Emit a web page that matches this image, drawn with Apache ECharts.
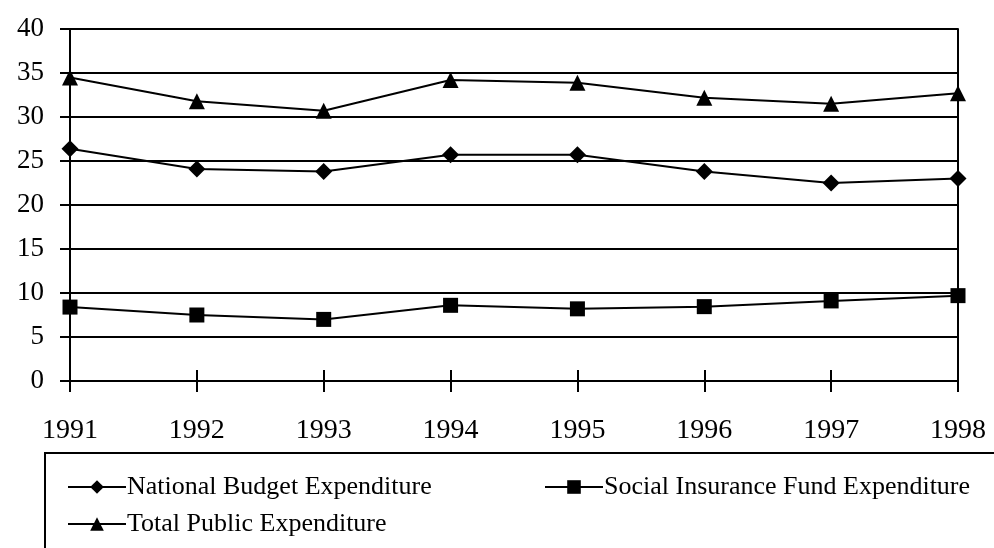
<!DOCTYPE html>
<html>
<head>
<meta charset="utf-8">
<script src="https://cdn.jsdelivr.net/npm/echarts@6/dist/echarts.min.js"></script>
<style>
  html, body { margin: 0; padding: 0; background: #fff; }
  #chart { width: 994px; height: 548px; }
</style>
</head>
<body>
<div id="chart"></div>
<script>
// years and the three expenditure series (%)
const years = ['1991', '1992', '1993', '1994', '1995', '1996', '1997', '1998'];
const nationalBudget = [26.4, 24.1, 23.8, 25.7, 25.7, 23.8, 22.5, 23.0];
const socialInsurance = [8.4, 7.5, 7.0, 8.6, 8.2, 8.45, 9.1, 9.7];
const totalPublic = [34.5, 31.8, 30.7, 34.2, 33.9, 32.2, 31.5, 32.7];

const serif = '"Liberation Serif", "DejaVu Serif", serif';
const black = '#000';

const chart = echarts.init(document.getElementById('chart'));

function lineSeries(name, data, symbol, size) {
    return {
        name: name,
        type: 'line',
        data: data,
        symbol: symbol,
        symbolSize: size,
        showSymbol: true,
        lineStyle: { color: black, width: 2 },
        itemStyle: { color: black },
        emphasis: { disabled: true },
        z: 5
    };
}

function legendAt(name, left, top) {
    return {
        data: [name],
        left: left,
        top: top,
        itemWidth: 58,
        itemHeight: 17,
        itemGap: 0,
        selectedMode: false,
        textStyle: { fontFamily: serif, fontSize: 26, color: black, padding: [0, 0, 0, -4] }
    };
}

chart.setOption({
    animation: false,
    backgroundColor: '#fff',
    grid: { left: 70, right: 36, top: 29, bottom: 167, containLabel: false },
    legend: [
        legendAt('National Budget Expenditure', 62, 469),
        legendAt('Social Insurance Fund Expenditure', 539, 469),
        legendAt('Total Public Expenditure', 62, 506)
    ],
    graphic: [{
        type: 'rect',
        shape: { x: 45, y: 453, width: 1000, height: 200 },
        style: { fill: 'none', stroke: black, lineWidth: 2 },
        silent: true
    }],
    xAxis: [{
        type: 'category',
        data: years,
        boundaryGap: false,
        axisLine: { lineStyle: { color: black, width: 2 } },
        axisTick: { show: true, length: 11, lineStyle: { color: black, width: 2 } },
        axisLabel: { fontFamily: serif, fontSize: 28, color: black, margin: 36 },
        splitLine: { show: false }
    }, {
        // inner half of the crossing ticks
        type: 'category',
        data: years,
        position: 'bottom',
        boundaryGap: false,
        axisLine: { show: false },
        axisTick: { show: true, inside: true, length: 11, lineStyle: { color: black, width: 2 } },
        axisLabel: { show: false },
        splitLine: { show: false }
    }],
    yAxis: [{
        type: 'value',
        min: 0,
        max: 40,
        interval: 5,
        axisLine: { show: true, lineStyle: { color: black, width: 2 } },
        axisTick: { show: true, length: 10, lineStyle: { color: black, width: 2 } },
        axisLabel: { fontFamily: serif, fontSize: 27, color: black, margin: 26 },
        splitLine: { show: true, lineStyle: { color: black, width: 2 } }
    }, {
        // right border of the plot
        type: 'value',
        position: 'right',
        min: 0,
        max: 40,
        interval: 5,
        axisLine: { show: true, lineStyle: { color: black, width: 2 } },
        axisTick: { show: false },
        axisLabel: { show: false },
        splitLine: { show: false }
    }],
    series: [
        lineSeries('National Budget Expenditure', nationalBudget, 'diamond', 17),
        lineSeries('Social Insurance Fund Expenditure', socialInsurance, 'rect', 15),
        lineSeries('Total Public Expenditure', totalPublic, 'triangle', 16)
    ]
});
</script>
</body>
</html>
